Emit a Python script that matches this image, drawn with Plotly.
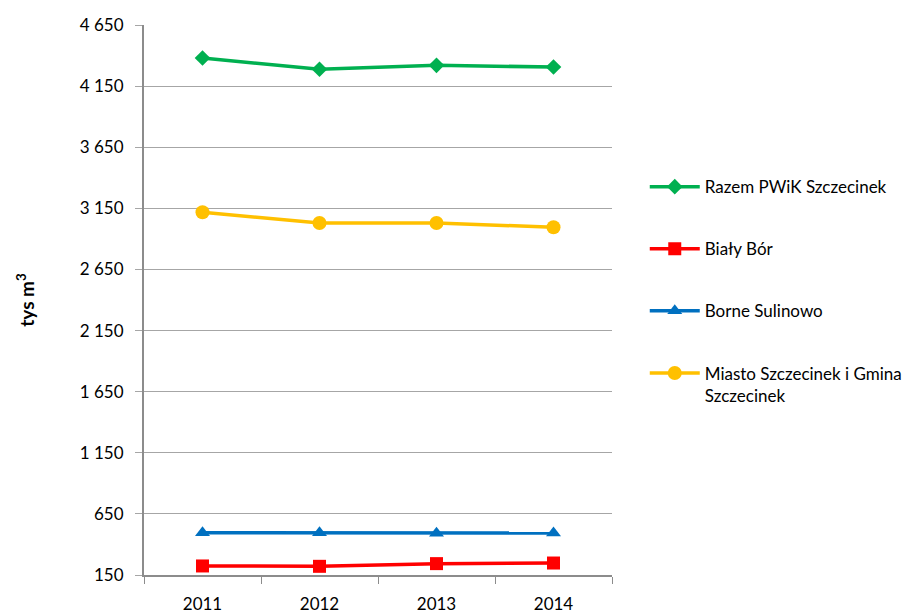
import plotly.graph_objects as go

# Water volumes per year (thousand m3)
years = ["2011", "2012", "2013", "2014"]
razem_pwik = [4380, 4288, 4320, 4306]
bialy_bor = [224, 221, 243, 248]
borne_sulinowo = [495, 495, 492, 494]
miasto_gmina = [3118, 3030, 3030, 2995]

series_names = [
    "Razem PWiK Szczecinek",
    "Biały Bór",
    "Borne Sulinowo",
    "Miasto Szczecinek i Gmina<br>Szczecinek",
]
series_values = [razem_pwik, bialy_bor, borne_sulinowo, miasto_gmina]
series_colors = ["#00B050", "#FF0000", "#0070C0", "#FFC000"]
series_symbols = ["diamond", "square", "triangle-up", "circle"]
series_sizes = [12, 13, 13, 14]

y_ticks = list(range(150, 4651, 500))

fig = go.Figure()
for i, (name, vals, col, sym, sz) in enumerate(
    zip(series_names, series_values, series_colors, series_symbols, series_sizes)
):
    fig.add_trace(
        go.Scatter(
            x=years,
            y=vals,
            name=name,
            mode="lines+markers",
            line=dict(color=col, width=3.5),
            marker=dict(symbol=sym, size=sz, color=col),
            legendgroup=f"g{i}",
        )
    )

FONT = "Lato, Calibri, Carlito, sans-serif"

fig.update_layout(
    width=922,
    height=614,
    margin=dict(l=144, r=310, t=25, b=39),
    paper_bgcolor="white",
    plot_bgcolor="white",
    separators=", ",
    font=dict(family=FONT, size=17, color="#000000"),
    showlegend=True,
    legend=dict(
        x=1.07,
        y=0.738,
        xanchor="left",
        yanchor="top",
        tracegroupgap=37,
        itemwidth=50,
        valign="top",
        font=dict(family=FONT, size=17, color="#000000"),
        bgcolor="rgba(0,0,0,0)",
    ),
    xaxis=dict(
        type="category",
        range=[-0.5, 3.5],
        automargin=False,
        tickson="boundaries",
        ticks="outside",
        ticklen=7,
        tickcolor="#8c8c8c",
        showline=True,
        linecolor="#8c8c8c",
        linewidth=2,
        showgrid=False,
        tickfont=dict(family=FONT, size=17),
        ticklabelstandoff=13,
    ),
    yaxis=dict(
        range=[150, 4650],
        automargin=False,
        tickvals=y_ticks,
        tickformat=",d",
        ticks="outside",
        ticklen=7,
        tickcolor="#a6a6a6",
        showline=True,
        linecolor="#8c8c8c",
        linewidth=2,
        showgrid=True,
        gridcolor="#a6a6a6",
        gridwidth=1,
        zeroline=False,
        tickfont=dict(family=FONT, size=17),
        ticklabelstandoff=8,
        title=dict(
            text="<b>tys m<sup>3</sup></b>",
            font=dict(family=FONT, size=19),
            standoff=40,
        ),
    ),
)

fig.write_html("out.html")
